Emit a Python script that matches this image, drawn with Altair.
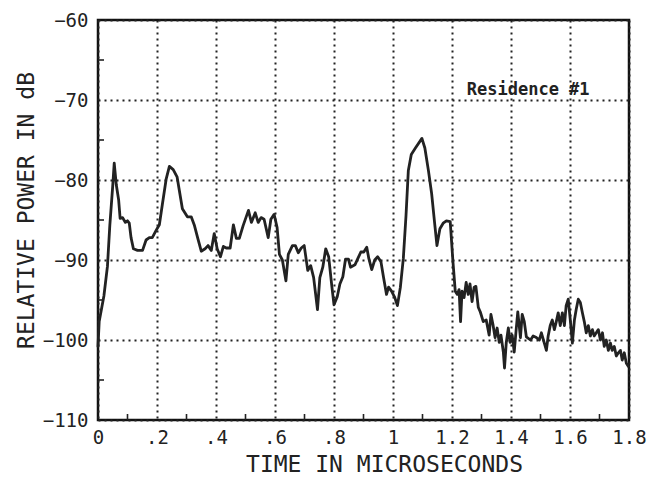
import json
import altair as alt
import pandas as pd

# Power delay profile, Residence #1
time_us = [
    0.0, 0.004, 0.02, 0.032, 0.04, 0.05, 0.055, 0.062, 0.07, 0.075, 0.083, 0.093, 0.1, 0.106, 0.112,
    0.12, 0.134, 0.151, 0.163, 0.174, 0.184, 0.197, 0.208, 0.218, 0.231, 0.242, 0.255,
    0.268, 0.286, 0.303, 0.316, 0.327, 0.339, 0.35, 0.363, 0.373, 0.384, 0.394, 0.404, 0.415,
    0.425, 0.435, 0.448, 0.459, 0.469, 0.479, 0.492, 0.51, 0.52, 0.533, 0.543, 0.553, 0.563, 0.577,
    0.586, 0.597, 0.607, 0.615, 0.625, 0.637, 0.645, 0.659, 0.669, 0.679, 0.689, 0.699, 0.711,
    0.721, 0.731, 0.744, 0.752, 0.762, 0.772, 0.782, 0.793, 0.8, 0.811, 0.82, 0.83, 0.839, 0.849,
    0.856, 0.871, 0.881, 0.891, 0.901, 0.911, 0.918, 0.928, 0.938, 0.948, 0.959, 0.968, 0.978,
    0.985, 0.995, 1.005, 1.015, 1.025, 1.035, 1.044, 1.052, 1.062, 1.076, 1.098, 1.108, 1.12,
    1.131, 1.142, 1.149, 1.159, 1.17, 1.181, 1.194, 1.203, 1.211, 1.218, 1.224, 1.229, 1.234,
    1.241, 1.248, 1.255, 1.261, 1.268, 1.275, 1.281, 1.289, 1.296, 1.306, 1.316, 1.326, 1.332,
    1.339, 1.346, 1.353, 1.36, 1.366, 1.374, 1.378, 1.384, 1.391, 1.397, 1.404, 1.411, 1.418,
    1.423, 1.432, 1.438, 1.445, 1.452, 1.466, 1.475, 1.486, 1.496, 1.503, 1.513, 1.52, 1.526,
    1.533, 1.54, 1.547, 1.553, 1.56, 1.567, 1.574, 1.581, 1.587, 1.594, 1.601, 1.608, 1.615,
    1.621, 1.628, 1.635, 1.642, 1.649, 1.655, 1.662, 1.669, 1.676, 1.682, 1.689, 1.696, 1.703,
    1.71, 1.716, 1.723, 1.73, 1.737, 1.743, 1.75, 1.757, 1.764, 1.771, 1.777, 1.784, 1.791, 1.798,
]
power_db = [
    -100.8, -97.7, -94.5, -90.8, -85.7, -80.7, -77.9, -80.6, -82.5, -84.8, -84.7, -85.3, -85.1, -85.4, -87.2,
    -88.6, -88.8, -88.8, -87.5, -87.2, -87.2, -86.3, -85.6, -83.1, -79.9, -78.3, -78.7,
    -79.6, -83.6, -84.6, -84.6, -85.7, -87.4, -88.9, -88.6, -88.2, -88.8, -86.7, -88.6, -89.6,
    -88.3, -88.5, -88.5, -85.6, -87.3, -87.3, -85.7, -83.8, -85.3, -84.1, -85.3, -84.7, -84.9, -87.2,
    -84.9, -84.3, -85.9, -89.3, -90.0, -92.6, -89.3, -88.2, -88.2, -89.1, -88.5, -88.2, -91.3,
    -90.7, -92.2, -96.2, -92.2, -90.9, -88.6, -89.6, -93.4, -95.6, -94.6, -93.0, -92.1, -89.9, -89.9,
    -90.9, -90.6, -89.8, -89.0, -89.0, -88.4, -89.8, -91.2, -90.0, -89.6, -90.2, -92.2, -94.3,
    -93.4, -93.9, -94.6, -95.7, -93.4, -89.8, -84.5, -78.8, -76.8, -76.0, -74.8, -76.0, -78.8,
    -81.7, -85.7, -88.2, -86.1, -85.4, -85.1, -85.2, -90.1, -93.9, -94.3, -93.7, -97.7, -93.9,
    -94.7, -92.8, -94.3, -93.0, -95.2, -93.4, -93.3, -95.9, -96.5, -97.7, -97.5, -99.4, -96.8,
    -98.1, -99.7, -98.5, -100.3, -99.4, -101.5, -103.5, -100.3, -98.5, -100.3, -99.4, -101.5, -98.5,
    -96.5, -99.7, -96.8, -97.7, -99.6, -100.0, -99.5, -99.7, -100.0, -99.1, -100.4, -101.3, -99.5,
    -98.2, -97.5, -98.7, -97.8, -96.6, -98.2, -96.6, -98.2, -95.7, -94.9, -97.5, -100.4, -97.5,
    -96.2, -94.9, -95.3, -96.6, -97.8, -99.1, -98.2, -99.5, -98.7, -99.5, -99.1, -98.7, -100.0,
    -99.1, -100.8, -100.0, -101.3, -100.4, -101.3, -100.8, -102.0, -101.6, -101.3, -102.5, -101.6, -102.9, -103.3,
]

x_major = [0, 0.2, 0.4, 0.6, 0.8, 1.0, 1.2, 1.4, 1.6, 1.8]
x_major_labels = ["0", ".2", ".4", ".6", ".8", "1", "1.2", "1.4", "1.6", "1.8"]
x_minor = [0.1, 0.3, 0.5, 0.7, 0.9, 1.1, 1.3, 1.5, 1.7]
y_major = [-110, -100, -90, -80, -70, -60]
y_minor = [-105, -95, -85, -75, -65]

note_text = ["Residence #1"]
note_time = [1.25]
note_db = [-68.8]

FONT = "DejaVu Sans Mono"
INK = "#222222"

x_scale = alt.Scale(domain=[0, 1.8], nice=False, zero=False)
y_scale = alt.Scale(domain=[-110, -60], nice=False, zero=False)

profile = pd.DataFrame({"t": time_us, "p": power_db})

x_axis = alt.Axis(
    values=x_major,
    labelExpr=f"{json.dumps(x_major_labels)}[round(datum.value * 5)]",
    title="TIME IN MICROSECONDS",
    titleFont=FONT, titleFontSize=23, titleFontWeight="normal", titleColor=INK,
    titleX=286, titleY=51, titleAlign="center", titleBaseline="alphabetic",
    labelFont=FONT, labelFontSize=19, labelColor=INK, labelPadding=8,
    labelFlush=False, labelOverlap=False,
    ticks=False, domain=False,
    grid=True, gridColor=INK, gridDash=[2, 4], gridWidth=2, gridOpacity=1,
)
y_axis = alt.Axis(
    values=y_major,
    title="RELATIVE POWER IN dB",
    titleFont=FONT, titleFontSize=23, titleFontWeight="normal", titleColor=INK,
    titleAngle=-90, titleX=-65, titleY=190, titleAlign="center", titleBaseline="alphabetic",
    labelFont=FONT, labelFontSize=19, labelColor=INK, labelPadding=10,
    labelFlush=False, labelOverlap=False,
    ticks=False, domain=False,
    grid=True, gridColor=INK, gridDash=[2, 4], gridWidth=2, gridOpacity=1,
)

curve = alt.Chart(profile).mark_line(
    color=INK, strokeWidth=2.8, strokeJoin="round", strokeCap="round"
).encode(
    x=alt.X("t:Q", scale=x_scale, axis=x_axis),
    y=alt.Y("p:Q", scale=y_scale, axis=y_axis),
)

x_ticks = alt.Chart(pd.DataFrame({"t": x_minor})).mark_rule(
    color=INK, strokeWidth=1.6
).encode(x=alt.X("t:Q", scale=x_scale), y=alt.value(400), y2=alt.value(394))

y_ticks = alt.Chart(pd.DataFrame({"p": y_minor})).mark_rule(
    color=INK, strokeWidth=1.6
).encode(y=alt.Y("p:Q", scale=y_scale), x=alt.value(0), x2=alt.value(6))

note = alt.Chart(pd.DataFrame({"t": note_time, "p": note_db, "label": note_text})).mark_text(
    align="left", baseline="middle", font=FONT, fontSize=17, fontWeight="bold", color=INK
).encode(x=alt.X("t:Q", scale=x_scale), y=alt.Y("p:Q", scale=y_scale), text="label:N")

chart = alt.layer(curve, x_ticks, y_ticks, note).properties(
    width=531,
    height=400,
    autosize=alt.AutoSizeParams(type="none"),
    padding={"left": 98, "top": 20, "right": 20, "bottom": 71},
    background="white",
).configure_view(
    stroke="#111111", strokeWidth=2.5
)

chart.save("out.html", embed_options={"renderer": "svg", "actions": False})
